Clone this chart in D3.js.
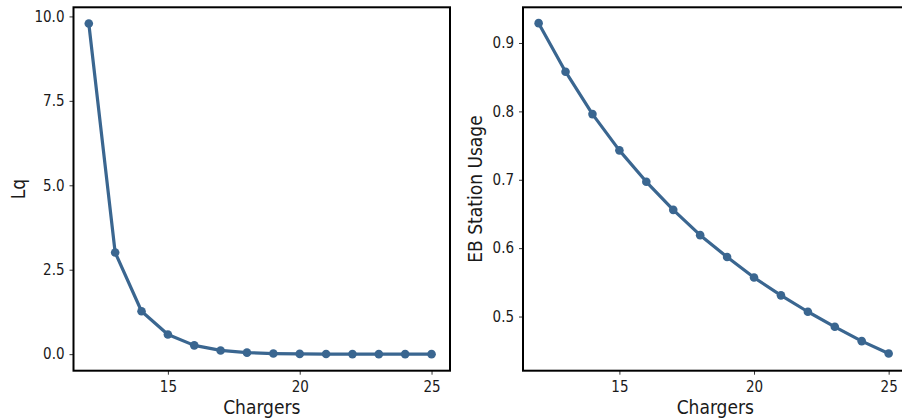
<!DOCTYPE html>
<html><head><meta charset="utf-8">
<script src="https://cdn.jsdelivr.net/npm/d3@7/dist/d3.min.js"></script>
<style>
html,body{margin:0;padding:0;background:#fff;}
svg{display:block;font-family:"DejaVu Sans Condensed","DejaVu Sans",sans-serif;}
</style></head>
<body>
<svg id="c" width="902" height="419"></svg>
<script>
const chargers = [12,13,14,15,16,17,18,19,20,21,22,23,24,25];
const lq = [9.79,3.01,1.27,0.58,0.26,0.11,0.045,0.018,0.007,0.0025,0.001,0.0003,0.0001,0.00003];
const usage = [0.929,0.858,0.796,0.743,0.697,0.656,0.619,0.587,0.557,0.531,0.507,0.485,0.464,0.446];
const xTicks = [15,20,25];
const lqTicks = [0,2.5,5,7.5,10];
const usageTicks = [0.5,0.6,0.7,0.8,0.9];
const xLabel = "Chargers";
const lqLabel = "Lq";
const usageLabel = "EB Station Usage";

const svg = d3.select("#c");
const color = "#3a6690";
const plotTop = 7.3, plotBottom = 370.7;
const FONT = "DejaVu Sans Condensed";

function panel(x0, x1, yDomain, vals, yTicks, yFmt, yLabel, yLabelX){
  const x = d3.scaleLinear().domain([11.42,25.7]).range([x0,x1]);
  const y = d3.scaleLinear().domain(yDomain).range([plotBottom, plotTop]);
  const g = svg.append("g");
  const ya = g.append("g").attr("transform",`translate(${x0},0)`)
    .call(d3.axisLeft(y).tickValues(yTicks).tickFormat(yFmt).tickSize(4).tickPadding(5).tickSizeOuter(0));
  const xa = g.append("g").attr("transform",`translate(0,${plotBottom})`)
    .call(d3.axisBottom(x).tickValues(xTicks).tickFormat(d3.format("d")).tickSize(4).tickPadding(7).tickSizeOuter(0));
  [ya,xa].forEach(a=>{
    a.attr("font-size",null).attr("font-family",null);
    a.select(".domain").remove();
    a.selectAll(".tick line").attr("stroke","#333").attr("stroke-width",1);
    a.selectAll(".tick text").attr("fill","#1a1a1a").style("font-size","15px").style("font-family",FONT);
  });
  const data = chargers.map((c,i)=>({c, v: vals[i]}));
  g.append("path").datum(data)
    .attr("fill","none").attr("stroke",color).attr("stroke-width",3.2).attr("stroke-linejoin","round")
    .attr("d", d3.line().x(d=>x(d.c)).y(d=>y(d.v)));
  g.selectAll("circle").data(data).enter().append("circle")
    .attr("cx",d=>x(d.c)).attr("cy",d=>y(d.v)).attr("r",4.3).attr("fill",color);
  g.append("rect").attr("x",x0).attr("y",plotTop).attr("width",x1-x0).attr("height",plotBottom-plotTop)
    .attr("fill","none").attr("stroke","#000").attr("stroke-width",2);
  g.append("text").attr("x",(x0+x1)/2).attr("y",414.3).attr("text-anchor","middle")
    .style("font-size","19px").style("font-family",FONT).attr("fill","#1a1a1a").text(xLabel);
  g.append("text").attr("transform",`translate(${yLabelX},${(plotTop+plotBottom)/2}) rotate(-90)`)
    .attr("text-anchor","middle").style("font-size","19px").style("font-family",FONT).attr("fill","#1a1a1a").text(yLabel);
}

panel(73.5, 450, [-0.49,10.27], lq, lqTicks, d3.format(".1f"), lqLabel, 24.5);
panel(523, 907.5, [0.4208,0.9522], usage, usageTicks, d3.format(".1f"), usageLabel, 482);
</script>
</body></html>
